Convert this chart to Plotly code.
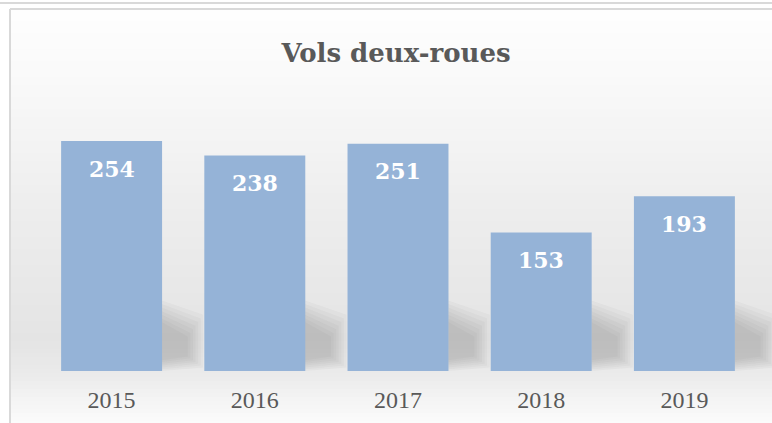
import plotly.graph_objects as go

years = ["2015", "2016", "2017", "2018", "2019"]
thefts = [254, 238, 251, 153, 193]
title_text = "Vols deux-roues"

W, H = 772, 423
BAR_COLOR = "#95b3d7"
plot_top, plot_bot, plot_l, plot_r = 100, 371, 40, 756
Y_MAX = 299.3

fig = go.Figure()
fig.add_trace(go.Bar(x=years, y=thefts, marker=dict(color=BAR_COLOR, line=dict(width=0)),
                     hoverinfo="x+y"))

def py_to_paper(py):
    return (plot_bot - py) / (plot_bot - plot_top)
def px_to_paper(px):
    return (px - plot_l) / (plot_r - plot_l)
def cat_to_paper(xi):
    return (xi + 0.5) / len(years)

stops = [(0, (255, 255, 255)), (70, (250, 250, 250)), (200, (238, 238, 238)),
         (340, (228, 228, 228)), (372, (234, 234, 234)), (400, (244, 244, 244)), (423, (251, 251, 251))]
def col_at(py):
    for (a, ca), (b, cb) in zip(stops[:-1], stops[1:]):
        if a <= py <= b:
            t = (py - a) / (b - a) if b > a else 0
            return tuple(round(ca[i] + (cb[i] - ca[i]) * t) for i in range(3))
    return stops[-1][1]

shapes = []
step = 4
for py in range(9, H, step):
    c = col_at(py + step / 2)
    shapes.append(dict(type="rect", xref="paper", yref="paper", layer="below",
                       x0=px_to_paper(11), x1=px_to_paper(W + 5),
                       y0=py_to_paper(py), y1=py_to_paper(min(py + step + 1, H + 2)),
                       fillcolor="rgb(%d,%d,%d)" % c, line=dict(width=0)))
# frame lines
shapes.append(dict(type="line", xref="paper", yref="paper", x0=px_to_paper(0), x1=px_to_paper(W),
                   y0=py_to_paper(3), y1=py_to_paper(3), line=dict(color="#d9d9d9", width=2)))
shapes.append(dict(type="line", xref="paper", yref="paper", x0=px_to_paper(10), x1=px_to_paper(W),
                   y0=py_to_paper(9), y1=py_to_paper(9), line=dict(color="#d9d9d9", width=2)))
shapes.append(dict(type="line", xref="paper", yref="paper", x0=px_to_paper(10), x1=px_to_paper(10),
                   y0=py_to_paper(9), y1=py_to_paper(H + 2), line=dict(color="#d9d9d9", width=2)))

# soft blurred shadows to the right of each bar (paper coords derived from category index)
for i, v in enumerate(thefts):
    for k in range(7):
        inset = 0.018 * k
        pts = [(i + 0.35, 0 + 2 * k), (i + 0.35, 78 - 4 * k), (i + 0.64 - inset, 62 - 4 * k),
               (i + 0.64 - inset, 4 + 2 * k)]
        path = "M " + " L ".join("%f,%f" % (cat_to_paper(a), b / Y_MAX) for a, b in pts) + " Z"
        shapes.append(dict(type="path", xref="paper", yref="paper", layer="below", path=path,
                           fillcolor="rgba(100,100,100,0.045)", line=dict(width=0)))

annotations = [dict(x=i, y=v, xref="x", yref="y", text="<b>%d</b>" % v, showarrow=False,
                    yshift=-27.5, yanchor="middle",
                    font=dict(family="DejaVu Serif", size=22, color="white"))
               for i, v in enumerate(thefts)]

fig.update_layout(
    width=W, height=H,
    margin=dict(l=plot_l, r=W - plot_r, t=plot_top, b=H - plot_bot, pad=0, autoexpand=False),
    paper_bgcolor="white", plot_bgcolor="rgba(0,0,0,0)",
    bargap=0.295,
    showlegend=False,
    title=dict(text="<b>%s</b>" % title_text, x=0.513, xanchor="center", y=1 - 53 / H, yanchor="middle",
               font=dict(family="DejaVu Serif", size=26, color="#595959")),
    xaxis=dict(type="category", range=[-0.5, len(years) - 0.5], showgrid=False, showline=False,
               zeroline=False, ticks="", automargin=False,
               tickfont=dict(family="Liberation Serif", size=24, color="#595959"), ticklabelstandoff=12),
    yaxis=dict(range=[0, Y_MAX], visible=False, fixedrange=True, automargin=False),
    shapes=shapes, annotations=annotations,
)
fig.write_html("out.html", config={"displayModeBar": False},
               post_script="document.body.style.margin='0';")
